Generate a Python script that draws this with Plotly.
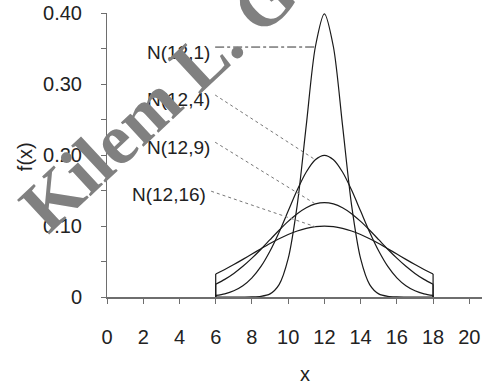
import plotly.graph_objects as go

# ---------------- data ----------------
x_grid = [6, 6.5, 7, 7.5, 8, 8.5, 9, 9.5, 10, 10.5, 11, 11.5, 12,
          12.5, 13, 13.5, 14, 14.5, 15, 15.5, 16, 16.5, 17, 17.5, 18]

series_names = ["N(12,1)", "N(12,4)", "N(12,9)", "N(12,16)"]

f_n12_1 = [0.0, 0.0, 0.0, 0.0, 0.0001, 0.0009, 0.0044, 0.0175, 0.0540, 0.1295, 0.2420, 0.3521, 0.3989,
           0.3521, 0.2420, 0.1295, 0.0540, 0.0175, 0.0044, 0.0009, 0.0001, 0.0, 0.0, 0.0, 0.0]
f_n12_4 = [0.0022, 0.0045, 0.0088, 0.0159, 0.0270, 0.0431, 0.0648, 0.0913, 0.1210, 0.1506, 0.1760, 0.1933, 0.1995,
           0.1933, 0.1760, 0.1506, 0.1210, 0.0913, 0.0648, 0.0431, 0.0270, 0.0159, 0.0088, 0.0045, 0.0022]
f_n12_9 = [0.0180, 0.0248, 0.0332, 0.0432, 0.0547, 0.0673, 0.0807, 0.0940, 0.1065, 0.1174, 0.1258, 0.1311, 0.1330,
           0.1311, 0.1258, 0.1174, 0.1065, 0.0940, 0.0807, 0.0673, 0.0547, 0.0432, 0.0332, 0.0248, 0.0180]
f_n12_16 = [0.0324, 0.0388, 0.0457, 0.0530, 0.0605, 0.0680, 0.0753, 0.0820, 0.0880, 0.0930, 0.0967, 0.0990, 0.0997,
            0.0990, 0.0967, 0.0930, 0.0880, 0.0820, 0.0753, 0.0680, 0.0605, 0.0530, 0.0457, 0.0388, 0.0324]

series_values = [f_n12_1, f_n12_4, f_n12_9, f_n12_16]

label_x = [5.8, 5.8, 5.8, 5.58]
label_y = [0.344, 0.2775, 0.211, 0.1437]
leader_start_y = [0.352, 0.2845, 0.218, 0.149]
leader_target_x = 11.5

x_tick_vals = [0, 2, 4, 6, 8, 10, 12, 14, 16, 18, 20]
y_tick_vals = [0, 0.1, 0.2, 0.3, 0.4]
y_tick_text = ["0", "0.10", "0.20", "0.30", "0.40"]

watermark_text = "Kilem L. Gwet"

# ---------------- figure ----------------
LINE = "#1a1a1a"
AXIS = "#6e6e6e"
TXT = "#222222"
FONT = "Liberation Sans, Arial, sans-serif"

fig = go.Figure()
for name, ys in zip(series_names, series_values):
    fig.add_trace(go.Scatter(x=x_grid, y=ys, mode="lines", name=name,
                             line=dict(color=LINE, width=1.2, shape="spline", smoothing=0.8),
                             hoverinfo="skip"))
    # vertical end segments down to the axis
    fig.add_trace(go.Scatter(x=[x_grid[0], x_grid[0]], y=[0, ys[0]], mode="lines",
                             line=dict(color=LINE, width=1.2), hoverinfo="skip"))
    fig.add_trace(go.Scatter(x=[x_grid[-1], x_grid[-1]], y=[0, ys[-1]], mode="lines",
                             line=dict(color=LINE, width=1.2), hoverinfo="skip"))

idx = x_grid.index(leader_target_x)
for i, (name, ys) in enumerate(zip(series_names, series_values)):
    fig.add_annotation(x=label_x[i], y=label_y[i], xref="x", yref="y", text=name,
                       showarrow=False, xanchor="right", yanchor="middle",
                       font=dict(family=FONT, size=19, color=TXT))
    fig.add_shape(type="line", xref="x", yref="y",
                  x0=label_x[i] + 0.17, y0=leader_start_y[i], x1=leader_target_x, y1=ys[idx],
                  line=dict(color="#333333" if i == 0 else "#777777", width=1,
                            dash="dashdot" if i == 0 else "dot"))

# axis titles
fig.add_annotation(x=10.94, y=0, xref="x", yref="paper", yshift=-77, text="x",
                   xanchor="center", yanchor="middle",
                   showarrow=False, font=dict(family=FONT, size=20, color=TXT))
fig.add_annotation(x=0, y=0.197, xref="paper", yref="y", xshift=-82, text="f(x)",
                   xanchor="center", yanchor="middle",
                   textangle=-90, showarrow=False, font=dict(family=FONT, size=20, color=TXT))

# watermark
fig.add_annotation(x=(198 - 107) / 375, y=(297 - 63) / 284, xref="paper", yref="paper",
                   xanchor="center", yanchor="middle",
                   text="<b>" + watermark_text + "</b>",
                   showarrow=False, textangle=-43,
                   font=dict(family="Liberation Serif, Times New Roman, serif", size=72, color="#808080"))

fig.update_layout(
    width=482, height=384,
    margin=dict(l=107, r=0, t=13, b=87),
    paper_bgcolor="white", plot_bgcolor="white",
    showlegend=False,
    font=dict(family=FONT, color=TXT, size=20),
    xaxis=dict(range=[0, 20.7], tickvals=x_tick_vals, ticks="outside", ticklen=5,
               tickcolor=AXIS, showline=True, linecolor=AXIS, linewidth=2,
               showgrid=False, zeroline=False, ticklabelstandoff=16,
               tickfont=dict(family=FONT, size=20, color=TXT)),
    yaxis=dict(range=[0, 0.40], tickvals=y_tick_vals, ticktext=y_tick_text,
               ticks="outside", ticklen=5, tickcolor=AXIS,
               minor=dict(dtick=0.05, ticks="outside", ticklen=5, tickcolor=AXIS),
               showline=True, linecolor=AXIS, linewidth=1,
               showgrid=False, zeroline=False, ticklabelstandoff=15,
               tickfont=dict(family=FONT, size=20, color=TXT)),
)

fig.write_html("out.html")
